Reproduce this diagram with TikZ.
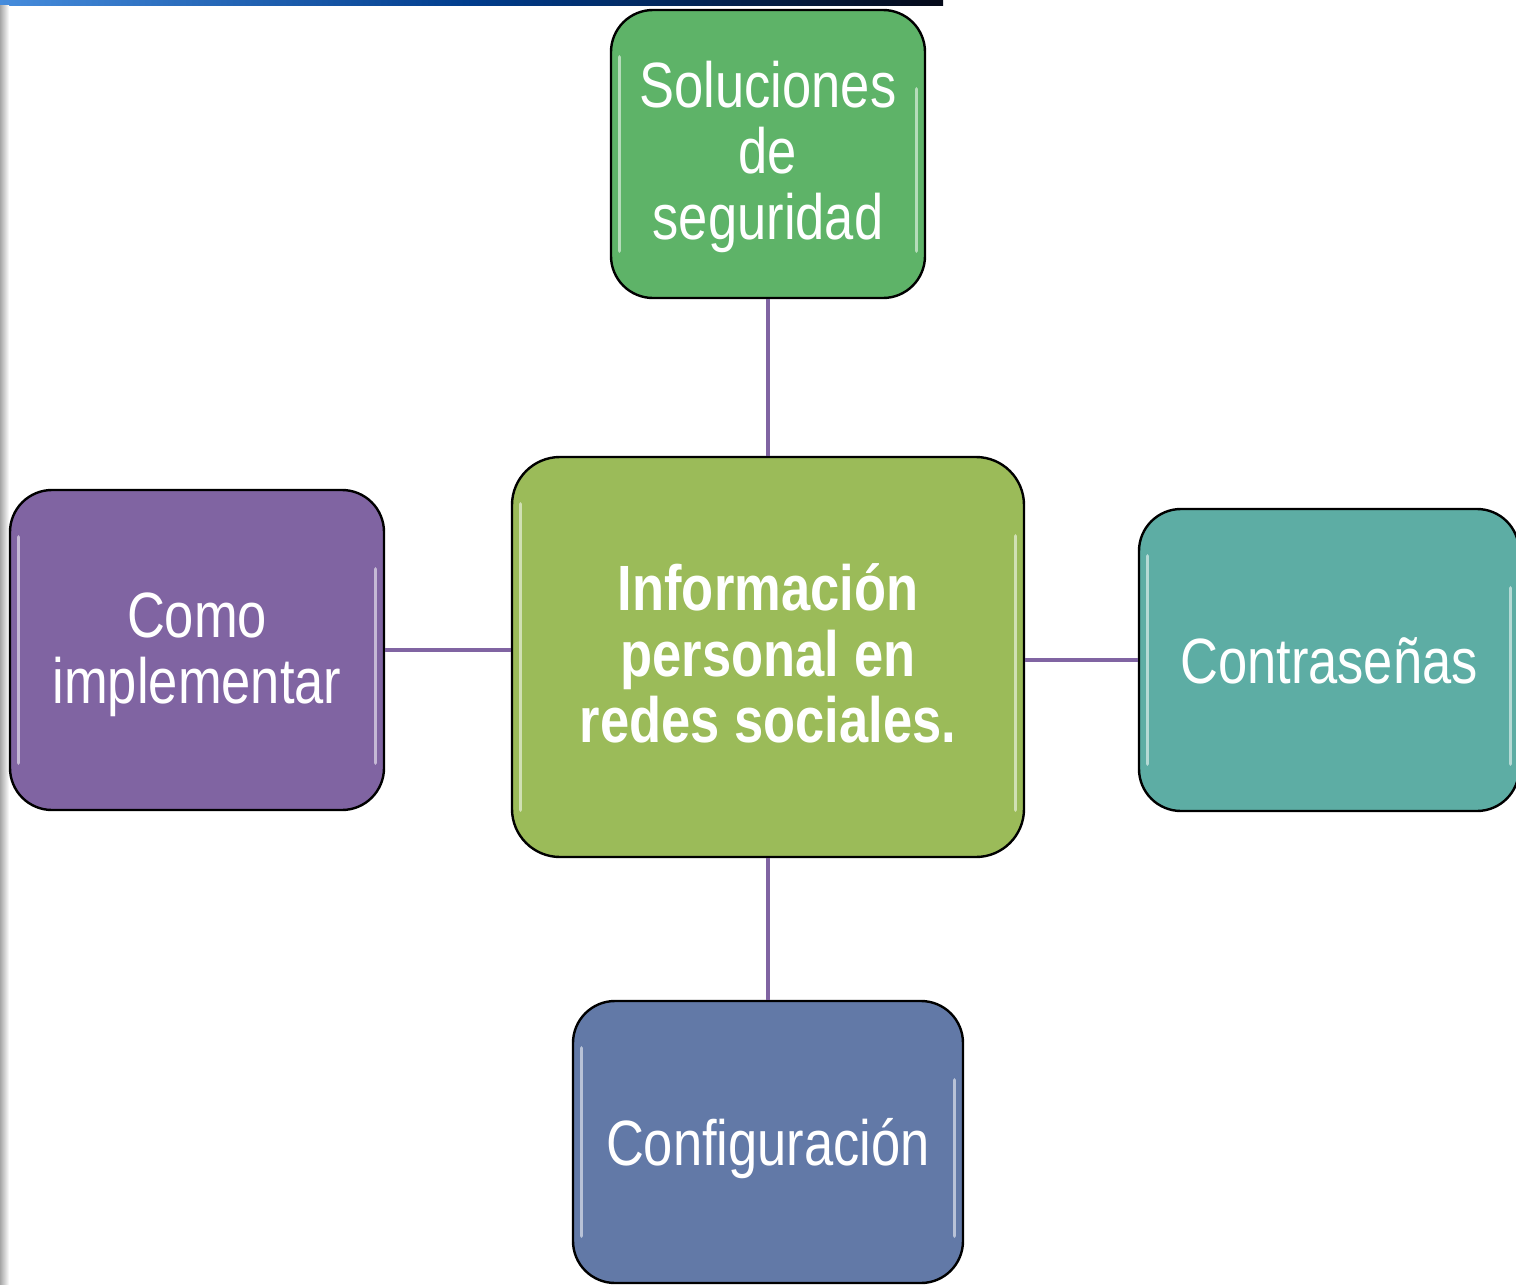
\documentclass[tikz,border=0pt]{standalone}
\usepackage{fontspec}
\setmainfont{Liberation Sans}[FakeStretch=0.82]
\definecolor{cgreen}{RGB}{94,179,104}
\definecolor{colive}{RGB}{155,187,89}
\definecolor{cpurple}{RGB}{128,100,162}
\definecolor{cteal}{RGB}{93,173,164}
\definecolor{cblue}{RGB}{98,121,167}
\definecolor{cline}{RGB}{128,100,162}
\definecolor{barL}{RGB}{70,140,220}
\definecolor{barM}{RGB}{0,60,140}
\definecolor{barR}{RGB}{5,10,25}
\tikzset{
  box/.style={draw=black, line width=1.2pt, rounded corners=21pt, align=center,
    text=white, font=\fontsize{32}{33}\selectfont, inner sep=2pt, text depth=0pt},
  oneline/.style={text height=23pt},
  twolines/.style={text height=53pt},
  threelines/.style={text height=85pt},
  conn/.style={draw=cline, line width=2pt},
  gloss/.style={draw=white, line width=1.6pt, opacity=0.55, line cap=round}
}
\newcommand{\glossy}[1]{%
  \draw[gloss] ([xshift=5pt,yshift=-24pt]#1.north west) -- ([xshift=5pt,yshift=24pt]#1.south west);
  \draw[gloss] ([xshift=-5pt,yshift=-40pt]#1.north east) -- ([xshift=-5pt,yshift=24pt]#1.south east);
}
\begin{document}
\begin{tikzpicture}[x=0.5pt,y=-0.5pt]
\useasboundingbox (0,0) rectangle (1516,1285);
\clip (0,0) rectangle (1516,1285);
\fill[white] (0,0) rectangle (1516,1285);
% decorative top bar and left strip
\shade[left color=barL, right color=barR, middle color=barM] (0,0) rectangle (943,5);
\shade[left color=black!35, right color=white] (0,5) rectangle (9,1285);
% nodes
\node[box, threelines, fill=cgreen, minimum width=157pt, minimum height=144pt] (sol) at (768,154) {Soluciones\\de\\seguridad};
\node[box, threelines, fill=colive, minimum width=256pt, minimum height=200pt, rounded corners=24pt, font=\fontsize{32}{33}\selectfont\bfseries] (info) at (768,657) {Información\\personal en\\redes sociales.};
\node[box, twolines, fill=cpurple, minimum width=187pt, minimum height=160pt] (como) at (197,650) {Como\\implementar};
\node[box, oneline, fill=cteal, minimum width=190pt, minimum height=151pt] (contra) at (1329,660) {Contraseñas};
\node[box, oneline, fill=cblue, minimum width=195pt, minimum height=141pt] (conf) at (768,1142) {Configuración};
\glossy{sol}\glossy{info}\glossy{como}\glossy{contra}\glossy{conf}
% connectors
\draw[conn] (sol.south) -- (info.north);
\draw[conn] (info.south) -- (conf.north);
\draw[conn] (como.east) -- (info.west |- como.east);
\draw[conn] (info.east |- contra.west) -- (contra.west);
\end{tikzpicture}
\end{document}
